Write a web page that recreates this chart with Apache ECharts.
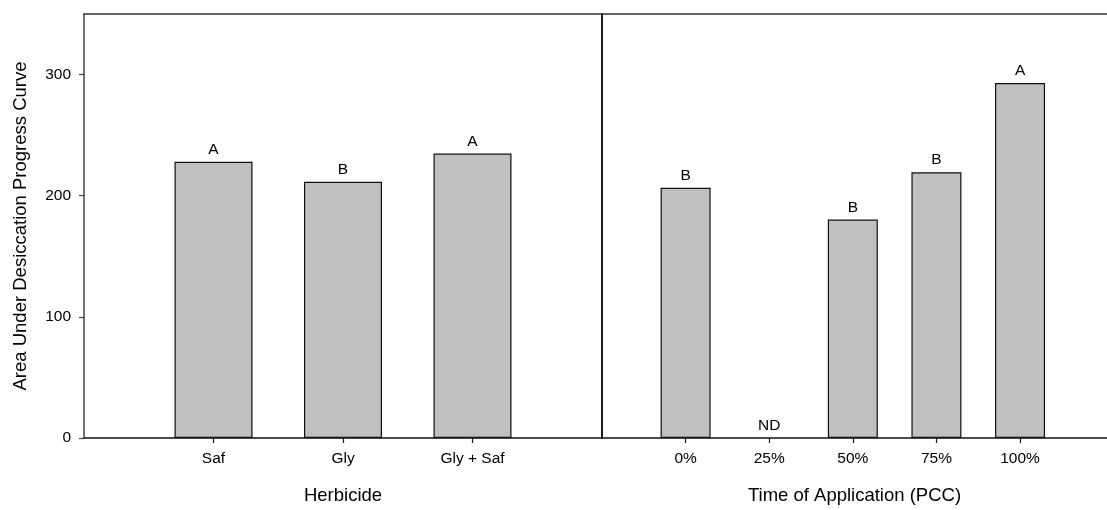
<!DOCTYPE html>
<html>
<head>
<meta charset="utf-8">
<script src="https://cdn.jsdelivr.net/npm/echarts@6/dist/echarts.min.js"></script>
<style>
  html, body { margin: 0; padding: 0; background: #fff; }
  #chart { width: 1107px; height: 510px; }
</style>
</head>
<body>
<div id="chart"></div>
<script>
// Herbicide treatments
const herbicideCategories = ['Saf', 'Gly', 'Gly + Saf'];
const herbicideValues = [228, 211.5, 234.8];
const herbicideLetters = ['A', 'B', 'A'];

// Time of application
const timingCategories = ['0%', '25%', '50%', '75%', '100%'];
const timingValues = [206.6, 0, 180.3, 219.4, 293.1];
const timingLetters = ['B', 'ND', 'B', 'B', 'A'];

// Shared y axis ticks
const yTicks = [0, 100, 200, 300];

const FONT = 'Liberation Sans, Arial, Helvetica, sans-serif';
const smallText = { fontFamily: FONT, fontSize: 15.5, color: '#000' };
const titleText = { fontFamily: FONT, fontSize: 18.5, color: '#000' };

// categories sit at x = 1..n on a value axis
const herbicidePositions = herbicideCategories.map((_, i) => i + 1);
const timingPositions = timingCategories.map((_, i) => i + 1);

function bottomAxis(gridIndex, max, categories, positions, name) {
  return {
    type: 'value', gridIndex, position: 'bottom', min: 0, max,
    splitLine: { show: false },
    axisLine: { show: true, onZero: false, lineStyle: { color: '#111', width: 1.6 } },
    axisTick: { show: true, customValues: positions, length: 5, lineStyle: { color: '#111', width: 1.2 } },
    axisLabel: {
      customValues: positions, margin: 13, ...smallText,
      formatter: v => categories[Math.round(v) - 1] || ''
    },
    name, nameLocation: 'middle', nameGap: 48, nameTextStyle: titleText
  };
}

function topAxis(gridIndex, max) {
  return {
    type: 'value', gridIndex, position: 'top', min: 0, max,
    splitLine: { show: false },
    axisLine: { show: true, onZero: false, lineStyle: { color: '#333', width: 1.5 } },
    axisTick: { show: false }, axisLabel: { show: false }
  };
}

function barSeries(xi, yi, positions, values, letters, width) {
  return {
    type: 'bar', xAxisIndex: xi, yAxisIndex: yi,
    // an empty (zero) bar keeps its label but draws no outline
    data: positions.map((x, i) => ({
      value: [x, values[i]],
      itemStyle: values[i] === 0 ? { borderWidth: 0 } : undefined
    })),
    barWidth: width,
    itemStyle: { color: '#c0c0c0', borderColor: '#111', borderWidth: 1.2 },
    label: {
      show: true, position: 'top', distance: 4, ...smallText,
      formatter: p => letters[p.dataIndex]
    },
    silent: true, animation: false
  };
}

const chart = echarts.init(document.getElementById('chart'), null, { renderer: 'canvas' });
chart.setOption({
  backgroundColor: '#fff',
  animation: false,
  grid: [
    { left: 84, top: 14, width: 518, height: 425 },
    { left: 602, top: 14, width: 505, height: 425 }
  ],
  xAxis: [
    bottomAxis(0, 4, herbicideCategories, herbicidePositions, 'Herbicide'),
    topAxis(0, 4),
    bottomAxis(1, 6.04, timingCategories, timingPositions, 'Time of Application (PCC)'),
    topAxis(1, 6.04)
  ],
  yAxis: [
    {
      type: 'value', gridIndex: 0, min: 0, max: 350,
      splitLine: { show: false },
      axisLine: { show: true, lineStyle: { color: '#444', width: 1.5 } },
      axisTick: { show: true, customValues: yTicks, length: 5, lineStyle: { color: '#444', width: 1.2 } },
      axisLabel: { customValues: yTicks, margin: 13, ...smallText },
      name: 'Area Under Desiccation Progress Curve',
      nameLocation: 'middle', nameGap: 54, nameTextStyle: titleText
    },
    {
      type: 'value', gridIndex: 1, min: 0, max: 350,
      splitLine: { show: false },
      axisLine: { show: true, lineStyle: { color: '#000', width: 1.8 } },
      axisTick: { show: false }, axisLabel: { show: false }
    }
  ],
  series: [
    barSeries(0, 0, herbicidePositions, herbicideValues, herbicideLetters, 78),
    barSeries(2, 1, timingPositions, timingValues, timingLetters, 50)
  ]
});
</script>
</body>
</html>
